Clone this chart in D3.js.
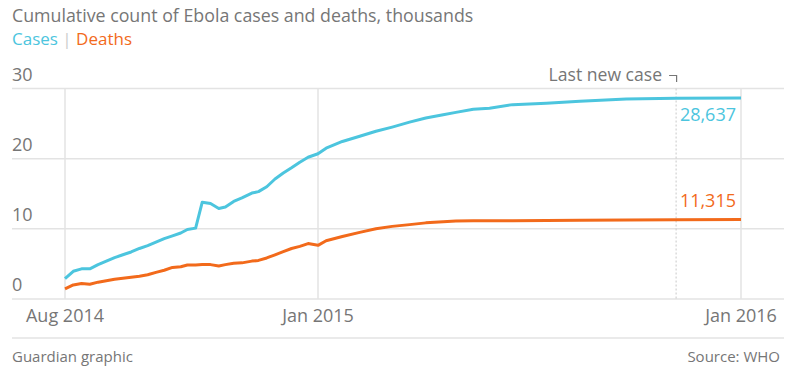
<!DOCTYPE html>
<html>
<head>
<meta charset="utf-8">
<script src="https://cdn.jsdelivr.net/npm/d3@7"></script>
<style>
  body { margin: 0; background: #fff; }
  svg { display: block; font-family: "Open Sans", sans-serif; }
</style>
</head>
<body>
<div id="chart"></div>
<script>
var dates = [
    "2014-08-01", "2014-08-06", "2014-08-11", "2014-08-16", "2014-08-21", "2014-08-26",
    "2014-08-31", "2014-09-05", "2014-09-10", "2014-09-15", "2014-09-20", "2014-09-25",
    "2014-09-30", "2014-10-05", "2014-10-10", "2014-10-14", "2014-10-19", "2014-10-23",
    "2014-10-28", "2014-11-02", "2014-11-06", "2014-11-11", "2014-11-16", "2014-11-22",
    "2014-11-26", "2014-12-01", "2014-12-06", "2014-12-11", "2014-12-16", "2014-12-21",
    "2014-12-26", "2015-01-01", "2015-01-08", "2015-01-22", "2015-02-06", "2015-02-20",
    "2015-03-06", "2015-03-21", "2015-04-04", "2015-04-19", "2015-04-30", "2015-05-15",
    "2015-05-29", "2015-06-18", "2015-07-17", "2015-08-15", "2015-09-24", "2015-11-06",
    "2016-01-01"
];
// thousands
var cases = [
    2.9, 3.95, 4.3, 4.3, 4.9, 5.4,
    5.9, 6.3, 6.7, 7.2, 7.6, 8.1,
    8.6, 9.0, 9.4, 9.9, 10.1, 13.8,
    13.6, 12.9, 13.1, 13.9, 14.4, 15.1,
    15.3, 16.0, 17.1, 17.95, 18.7, 19.5,
    20.2, 20.7, 21.5, 22.45, 23.2, 23.9,
    24.5, 25.2, 25.8, 26.25, 26.6, 27.05,
    27.2, 27.7, 27.9, 28.2, 28.5, 28.6,
    28.637
];
var deaths = [
    1.45, 2.0, 2.2, 2.1, 2.4, 2.6,
    2.8, 2.95, 3.1, 3.25, 3.45, 3.8,
    4.1, 4.5, 4.6, 4.85, 4.85, 4.9,
    4.9, 4.7, 4.9, 5.1, 5.15, 5.4,
    5.5, 5.85, 6.3, 6.75, 7.2, 7.5,
    7.9, 7.65, 8.3, 8.9, 9.5, 10.0,
    10.35, 10.6, 10.85, 11.0, 11.1, 11.15,
    11.15, 11.15, 11.2, 11.22, 11.25, 11.3,
    11.315
];
var yTicks = [0, 10, 20, 30];
var xTickDates = ["2014-08-01", "2015-01-01", "2016-01-01"];
var xTickLabels = ["Aug 2014", "Jan 2015", "Jan 2016"];
var lastNewCase = "2015-11-06";

var caseColor = "#4cc5de";
var deathColor = "#f26a1b";
var grey = "#767676";
var gridColor = "#e3e3e3";

var width = 800, height = 389;
var left = 12, right = 784;
var parse = d3.timeParse("%Y-%m-%d");

var svg = d3.select("#chart")
    .append("svg")
    .attr("width", width)
    .attr("height", height);

// x scale is not uniform in time on the original, so use a piecewise domain
var x = d3.scaleTime()
    .domain(xTickDates.map(parse))
    .range([65, 318, 741]);

var y = d3.scaleLinear()
    .domain([0, 30])
    .range([299, 88.5]);

// title + legend
svg.append("text")
    .attr("x", left).attr("y", 22)
    .attr("fill", grey)
    .style("font-size", "17.8px")
    .text("Cumulative count of Ebola cases and deaths, thousands");

var legend = svg.append("text")
    .attr("x", left).attr("y", 45)
    .style("font-size", "17px");
legend.append("tspan").attr("fill", caseColor).text("Cases");
legend.append("tspan").attr("fill", "#cccccc").text(" | ");
legend.append("tspan").attr("fill", deathColor).text("Deaths");

// horizontal grid
svg.append("g")
    .selectAll("line")
    .data(yTicks)
    .enter()
    .append("line")
    .attr("x1", left).attr("x2", right)
    .attr("y1", function(d) { return y(d); })
    .attr("y2", function(d) { return y(d); })
    .attr("stroke", gridColor)
    .attr("stroke-width", 1.5);

svg.append("g")
    .selectAll("text")
    .data(yTicks)
    .enter()
    .append("text")
    .attr("x", left)
    .attr("y", function(d) { return y(d) - 8; })
    .attr("fill", grey)
    .style("font-size", "18px")
    .text(function(d) { return d; });

// vertical grid
svg.append("g")
    .selectAll("line")
    .data(xTickDates)
    .enter()
    .append("line")
    .attr("x1", function(d) { return x(parse(d)); })
    .attr("x2", function(d) { return x(parse(d)); })
    .attr("y1", y(30)).attr("y2", y(0))
    .attr("stroke", gridColor)
    .attr("stroke-width", 1.5);

svg.append("g")
    .selectAll("text")
    .data(xTickDates)
    .enter()
    .append("text")
    .attr("x", function(d) { return x(parse(d)); })
    .attr("y", 322)
    .attr("text-anchor", "middle")
    .attr("fill", grey)
    .style("font-size", "18px")
    .text(function(d, i) { return xTickLabels[i]; });

// last new case marker
var lx = x(parse(lastNewCase));
svg.append("line")
    .attr("x1", lx).attr("x2", lx)
    .attr("y1", y(30)).attr("y2", y(0))
    .attr("stroke", "#c8c8c8")
    .attr("stroke-width", 1)
    .attr("stroke-dasharray", "2,2");
svg.append("path")
    .attr("d", "M" + (lx - 7) + "," + 75.5 + "H" + (lx + 0.5) + "V" + 82)
    .attr("fill", "none")
    .attr("stroke", grey)
    .attr("stroke-width", 1.2);
svg.append("text")
    .attr("x", lx - 14).attr("y", 81)
    .attr("text-anchor", "end")
    .attr("fill", grey)
    .style("font-size", "17.6px")
    .text("Last new case");

// lines
var series = [
    { name: "cases", values: cases, color: caseColor },
    { name: "deaths", values: deaths, color: deathColor }
];

var line = d3.line()
    .x(function(d, i) { return x(parse(dates[i])); })
    .y(function(d) { return y(d); });

svg.selectAll("myLines")
    .data(series)
    .enter()
    .append("path")
    .attr("d", function(d) { return line(d.values); })
    .attr("stroke", function(d) { return d.color; })
    .attr("stroke-width", 3)
    .attr("stroke-linejoin", "round")
    .attr("fill", "none");

// end labels
var fmt = d3.format(",");
var endX = x(parse(dates[dates.length - 1]));
svg.append("text")
    .attr("x", endX - 5)
    .attr("y", y(cases[cases.length - 1]) + 23)
    .attr("text-anchor", "end")
    .attr("fill", caseColor)
    .style("font-size", "18px")
    .text(fmt(Math.round(cases[cases.length - 1] * 1000)));
svg.append("text")
    .attr("x", endX - 5)
    .attr("y", y(deaths[deaths.length - 1]) - 13)
    .attr("text-anchor", "end")
    .attr("fill", deathColor)
    .style("font-size", "18px")
    .text(fmt(Math.round(deaths[deaths.length - 1] * 1000)));

// footer
svg.append("line")
    .attr("x1", left).attr("x2", right)
    .attr("y1", 338).attr("y2", 338)
    .attr("stroke", gridColor)
    .attr("stroke-width", 1.5);
svg.append("text")
    .attr("x", left).attr("y", 362)
    .attr("fill", grey)
    .style("font-size", "15px")
    .text("Guardian graphic");
svg.append("text")
    .attr("x", 780).attr("y", 362)
    .attr("text-anchor", "end")
    .attr("fill", grey)
    .style("font-size", "15px")
    .text("Source: WHO");
</script>
</body>
</html>
